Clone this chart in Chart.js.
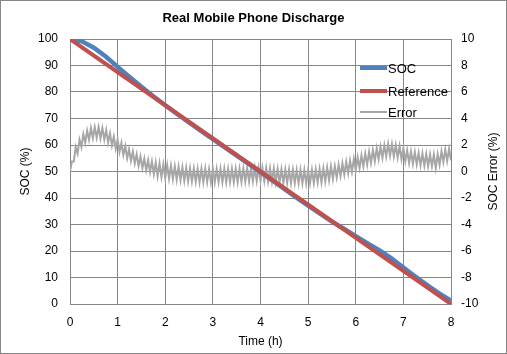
<!DOCTYPE html>
<html>
<head>
<meta charset="utf-8">
<script src="https://cdn.jsdelivr.net/npm/chart.js@4/dist/chart.umd.min.js"></script>
<style>
  html, body { margin: 0; padding: 0; background: #fff; }
  canvas { display: block; }
</style>
</head>
<body>
<canvas id="chart" width="507" height="354"></canvas>
<script>
// ---- Data ----
const socTimes = [0, 0.25, 0.5, 0.75, 1, 1.25, 1.5, 1.75, 2, 2.25, 2.5, 2.75, 3, 3.25, 3.5, 3.75,
  4, 4.25, 4.5, 4.75, 5, 5.25, 5.5, 5.75, 6, 6.25, 6.5, 6.75, 7, 7.25, 7.5, 7.75, 8];
const socValues = [100, 99.1, 96.7, 93.4, 89.5, 85.7, 82.0, 78.4, 75.0, 71.7, 68.5, 65.3, 62.2, 59.1, 56.0, 52.9,
  49.8, 46.6, 43.4, 40.2, 37.1, 34.1, 31.1, 28.4, 25.6, 22.9, 20.2, 17.2, 13.8, 10.4, 7.1, 4.0, 1.3];

const refTimes = [0, 8];
const refValues = [100, 0];

// error samples, one row per hour
const errTimes = [
  0, 0.04, 0.08, 0.12, 0.16, 0.2, 0.24, 0.28, 0.32, 0.36, 0.4, 0.44, 0.48, 0.52, 0.56, 0.6, 0.64, 0.68, 0.72, 0.76, 0.8, 0.84, 0.88, 0.92, 0.96,
  1, 1.04, 1.08, 1.12, 1.16, 1.2, 1.24, 1.28, 1.32, 1.36, 1.4, 1.44, 1.48, 1.52, 1.56, 1.6, 1.64, 1.68, 1.72, 1.76, 1.8, 1.84, 1.88, 1.92, 1.96,
  2, 2.04, 2.08, 2.12, 2.16, 2.2, 2.24, 2.28, 2.32, 2.36, 2.4, 2.44, 2.48, 2.52, 2.56, 2.6, 2.64, 2.68, 2.72, 2.76, 2.8, 2.84, 2.88, 2.92, 2.96,
  3, 3.04, 3.08, 3.12, 3.16, 3.2, 3.24, 3.28, 3.32, 3.36, 3.4, 3.44, 3.48, 3.52, 3.56, 3.6, 3.64, 3.68, 3.72, 3.76, 3.8, 3.84, 3.88, 3.92, 3.96,
  4, 4.04, 4.08, 4.12, 4.16, 4.2, 4.24, 4.28, 4.32, 4.36, 4.4, 4.44, 4.48, 4.52, 4.56, 4.6, 4.64, 4.68, 4.72, 4.76, 4.8, 4.84, 4.88, 4.92, 4.96,
  5, 5.04, 5.08, 5.12, 5.16, 5.2, 5.24, 5.28, 5.32, 5.36, 5.4, 5.44, 5.48, 5.52, 5.56, 5.6, 5.64, 5.68, 5.72, 5.76, 5.8, 5.84, 5.88, 5.92, 5.96,
  6, 6.04, 6.08, 6.12, 6.16, 6.2, 6.24, 6.28, 6.32, 6.36, 6.4, 6.44, 6.48, 6.52, 6.56, 6.6, 6.64, 6.68, 6.72, 6.76, 6.8, 6.84, 6.88, 6.92, 6.96,
  7, 7.04, 7.08, 7.12, 7.16, 7.2, 7.24, 7.28, 7.32, 7.36, 7.4, 7.44, 7.48, 7.52, 7.56, 7.6, 7.64, 7.68, 7.72, 7.76, 7.8, 7.84, 7.88, 7.92, 7.96,
  8];
const errValues = [
  0, 0.76, 0.76, 1.86, 1.36, 2.4, 1.84, 2.82, 2.16, 3.08, 2.4, 3.28, 2.53, 3.35, 2.55, 3.35, 2.51, 3.27, 2.41, 3.12, 2.2, 2.88, 1.96, 2.64, 1.72,
  2.4, 1.48, 2.16, 1.24, 1.92, 1.0, 1.7, 0.8, 1.5, 0.6, 1.3, 0.42, 1.14, 0.26, 0.98, 0.1, 0.86, -0.04, 0.76, -0.2, 0.68, -0.34, 0.62, -0.42, 0.54,
  -0.5, 0.48, -0.54, 0.44, -0.58, 0.4, -0.62, 0.36, -0.66, 0.32, -0.7, 0.28, -0.74, 0.25, -0.76, 0.23, -0.78, 0.21, -0.8, 0.2, -0.8, 0.22, -0.8, 0.18, -0.82,
  0.2, -0.8, 0.2, -0.78, 0.21, -0.8, 0.2, -0.81, 0.19, -0.8, 0.2, -0.8, 0.2, -0.8, 0.21, -0.78, 0.23, -0.76, 0.24, -0.75, 0.26, -0.73, 0.28, -0.72, 0.29,
  -0.7, 0.29, -0.72, 0.26, -0.75, 0.24, -0.77, 0.22, -0.8, 0.19, -0.82, 0.17, -0.84, 0.15, -0.86, 0.14, -0.86, 0.13, -0.87, 0.12, -0.88, 0.12, -0.89, 0.11, -0.9,
  0.1, -0.89, 0.13, -0.86, 0.15, -0.83, 0.18, -0.81, 0.22, -0.74, 0.3, -0.66, 0.38, -0.55, 0.41, -0.45, 0.5, -0.34, 0.61, -0.24, 0.72, -0.13, 0.82, -0.02, 0.95,
  0.12, 1.08, 0.25, 1.22, 0.38, 1.35, 0.52, 1.48, 0.65, 1.62, 0.78, 1.75, 0.92, 1.88, 1.03, 1.98, 1.13, 2.08, 1.19, 2.06, 1.13, 1.99, 1.06, 1.91, 0.93,
  1.75, 0.77, 1.59, 0.64, 1.51, 0.58, 1.46, 0.53, 1.4, 0.48, 1.35, 0.44, 1.32, 0.41, 1.3, 0.38, 1.27, 0.25, 1.3, 0.51, 1.52, 0.72, 1.67, 0.8, 1.72,
  0.85];

const xTicks = [0, 1, 2, 3, 4, 5, 6, 7, 8];
const seriesNames = ["SOC", "Reference", "Error"];
const seriesColors = ["#4f81bd", "#c0504d", "#a6a6a6"];

// ---- Helpers ----
function toPoints(xs, ys) {
  return xs.map((x, i) => ({ x: x, y: ys[i] }));
}

const gridColor = "#868686";
Chart.defaults.font.family = "'Liberation Sans', Arial, sans-serif";
Chart.defaults.font.size = 12;
Chart.defaults.color = "#000";

// background, outer frame, right axis title and legend
const extras = {
  id: "extras",
  beforeDraw(chart) {
    const ctx = chart.ctx;
    ctx.save();
    ctx.fillStyle = "#fff";
    ctx.fillRect(0, 0, chart.width, chart.height);
    ctx.strokeStyle = gridColor;
    ctx.lineWidth = 1;
    ctx.strokeRect(0.5, 0.5, chart.width - 1, chart.height - 1);
    ctx.restore();
  },
  afterDraw(chart) {
    const ctx = chart.ctx;
    const area = chart.chartArea;
    ctx.save();
    ctx.fillStyle = "#000";
    ctx.font = "12px 'Liberation Sans', Arial, sans-serif";
    ctx.translate(494, (area.top + area.bottom) / 2);
    ctx.rotate(-Math.PI / 2);
    ctx.textAlign = "center";
    ctx.textBaseline = "middle";
    ctx.fillText("SOC Error (%)", 0, 0);
    ctx.restore();

    // legend
    const rows = [68, 91, 112];
    const widths = [4, 4, 2];
    ctx.save();
    ctx.font = "13px 'Liberation Sans', Arial, sans-serif";
    ctx.textBaseline = "middle";
    ctx.textAlign = "left";
    seriesNames.forEach((name, i) => {
      ctx.strokeStyle = seriesColors[i];
      ctx.lineWidth = widths[i];
      ctx.beginPath();
      ctx.moveTo(360, rows[i]);
      ctx.lineTo(387, rows[i]);
      ctx.stroke();
      ctx.fillStyle = "#000";
      ctx.fillText(name, 388, rows[i] + 1);
    });
    ctx.restore();
  }
};

new Chart(document.getElementById("chart"), {
  type: "line",
  data: {
    datasets: [
      {
        label: seriesNames[0],
        data: toPoints(socTimes, socValues),
        borderColor: seriesColors[0],
        borderWidth: 4.5,
        yAxisID: "y",
        order: 1
      },
      {
        label: seriesNames[1],
        data: toPoints(refTimes, refValues),
        borderColor: seriesColors[1],
        borderWidth: 4,
        yAxisID: "y",
        order: 0
      },
      {
        label: seriesNames[2],
        data: toPoints(errTimes, errValues),
        borderColor: seriesColors[2],
        borderWidth: 2,
        yAxisID: "y2",
        order: 2
      }
    ]
  },
  options: {
    responsive: false,
    animation: false,
    elements: { point: { radius: 0 }, line: { tension: 0, borderCapStyle: "butt" } },
    layout: { padding: 0 },
    plugins: {
      legend: { display: false },
      tooltip: { enabled: false },
      title: {
        display: true,
        text: "Real Mobile Phone Discharge",
        font: { size: 13, weight: "bold" },
        color: "#000",
        padding: { top: 11, bottom: 12.4 }
      }
    },
    scales: {
      x: {
        type: "linear",
        min: 0,
        max: 8,
        afterBuildTicks: s => { s.ticks = xTicks.map(v => ({ value: v })); },
        afterFit: s => { s.height = 50; },
        grid: { color: gridColor, drawTicks: false },
        border: { color: gridColor },
        ticks: { padding: 11, maxRotation: 0 },
        title: { display: true, text: "Time (h)", padding: { top: 0, bottom: 5 } }
      },
      y: {
        position: "left",
        min: 0,
        max: 100,
        afterFit: s => { s.width = 70; },
        grid: { color: gridColor, drawTicks: false },
        border: { color: gridColor },
        ticks: { stepSize: 10, padding: 12 },
        title: { display: true, text: "SOC (%)", padding: { top: 18, bottom: 0 } }
      },
      y2: {
        position: "right",
        min: -10,
        max: 10,
        afterFit: s => { s.width = 56; },
        grid: { display: false, drawTicks: false },
        border: { color: gridColor },
        ticks: { stepSize: 2, padding: 10 }
      }
    }
  },
  plugins: [extras]
});
</script>
</body>
</html>
